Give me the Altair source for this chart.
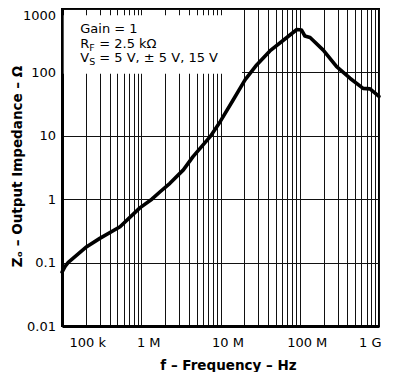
import altair as alt
import pandas as pd

# ---- data ----
freq_hz = [1.0e5, 1.1e5, 1.2e5, 2.05e5, 3.0e5, 5.4e5, 9.6e5, 1.36e6, 1.73e6, 2.3e6,
           3.4e6, 4.5e6, 7.4e6, 9.9e6, 1.45e7, 2.04e7, 2.86e7, 4.2e7, 6.5e7, 9.2e7,
           1.05e8, 1.16e8, 1.35e8, 1.98e8, 2.92e8, 4.3e8, 6.3e8, 7.7e8, 1.0e9]
zout_ohm = [0.071, 0.088, 0.101, 0.178, 0.241, 0.368, 0.73, 1.0, 1.31, 1.78,
            2.9, 4.7, 9.7, 16.7, 37, 76, 131, 218, 336, 475,
            467, 375, 355, 225, 123, 81, 56, 55, 42]

x_tick_values = [1e5, 1e6, 1e7, 1e8, 1e9]
x_tick_labels = ["100 k", "1 M", "10 M", "100 M", "1 G"]
y_tick_values = [0.01, 0.1, 1, 10, 100, 1000]
y_tick_labels = ["0.01", "0.1", "1", "10", "100", "1000"]

note_main = ["Gain = 1", "R", "V"]
note_sub = ["F", "S"]
note_rest = ["= 2.5 kΩ", "= 5 V, ± 5 V, 15 V"]

# minor grid positions (1..9 per decade)
x_grid = [m * 10 ** e for e in range(5, 9) for m in range(1, 10)] + [1e9]

FONT = "DejaVu Sans"

curve = pd.DataFrame({"f": freq_hz, "z": zout_ohm})

def label_expr(vals, labs):
    expr = "''"
    for v, l in reversed(list(zip(vals, labs))):
        expr = f"datum.value == {v!r} ? '{l}' : ({expr})"
    return expr

xscale = alt.Scale(type="log", domain=[1e5, 1e9], nice=False)
yscale = alt.Scale(type="log", domain=[0.01, 1000], nice=False)

xaxis = alt.Axis(
    values=x_grid, labelExpr=label_expr(x_tick_values, x_tick_labels),
    labelOverlap=False, ticks=False, tickSize=0, labelPadding=10,
    labelOffset={"condition": {"test": "datum.value >= 1e9", "value": 2}, "value": 7},
    labelFontSize=13, labelFont=FONT, labelColor="black",
    grid=True, gridColor="#111", gridWidth=1,
    domainColor="black", domainWidth=3,
    title="f – Frequency – Hz", titleFont=FONT, titleFontSize=13.5, titleFontWeight="bold",
    titleX=166, titleY=43, titleBaseline="alphabetic", titleAlign="center", titleColor="black",
)
yaxis = alt.Axis(
    values=y_tick_values, labelExpr=label_expr(y_tick_values, y_tick_labels),
    labelOverlap=False, ticks=False, tickSize=0, labelPadding=6.5,
    labelBaseline={"condition": {"test": "datum.value >= 1000", "value": "top"}, "value": "middle"},
    labelFontSize=13, labelFont=FONT, labelColor="black",
    grid=True, gridColor="#111", gridWidth=1,
    domainColor="black", domainWidth=3,
    title="Zₒ – Output Impedance – Ω", titleFont=FONT, titleFontSize=13.5, titleFontWeight="bold",
    titleX=-41, titleY=157, titleAngle=270, titleBaseline="alphabetic", titleAlign="center",
    titleColor="black",
)

X = alt.X("f:Q", scale=xscale, axis=xaxis)
Y = alt.Y("z:Q", scale=yscale, axis=yaxis)

box = pd.DataFrame({"f": [1.05e5], "f2": [1.87e7], "z": [95], "z2": [800]})
box_layer = alt.Chart(box).mark_rect(fill="white", strokeWidth=0).encode(
    x=X, x2="f2:Q", y=Y, y2="z2:Q",
)

line_layer = alt.Chart(curve).mark_line(
    color="black", strokeWidth=3.6, strokeJoin="round", strokeCap="round"
).encode(x=X, y=Y)

main_notes = pd.DataFrame({"f": [1.7e5] * 3, "z": [418, 247, 146], "t": note_main})
sub_notes = pd.DataFrame({"f": [1.7e5] * 2, "z": [247, 146], "t": note_sub})
rest_notes = pd.DataFrame({"f": [1.7e5] * 2, "z": [247, 146], "t": note_rest})

def text_layer(df, size, dx, dy):
    return alt.Chart(df).mark_text(
        align="left", baseline="alphabetic", font=FONT, fontSize=size,
        color="black", dx=dx, dy=dy
    ).encode(x=X, y=Y, text="t:N")

chart = alt.layer(
    box_layer,
    line_layer,
    text_layer(main_notes, 13, 0, 0),
    text_layer(sub_notes, 9.5, 9, 3),
    text_layer(rest_notes, 13, 19, 0),
).properties(
    width=317, height=317,
    autosize=alt.AutoSizeParams(type="none"),
    padding={"left": 54, "top": 1, "right": 13, "bottom": 46},
    background="white",
).configure_view(
    stroke="black", strokeWidth=2
)

chart.save("out.html", embed_options={"renderer": "svg", "actions": False})
